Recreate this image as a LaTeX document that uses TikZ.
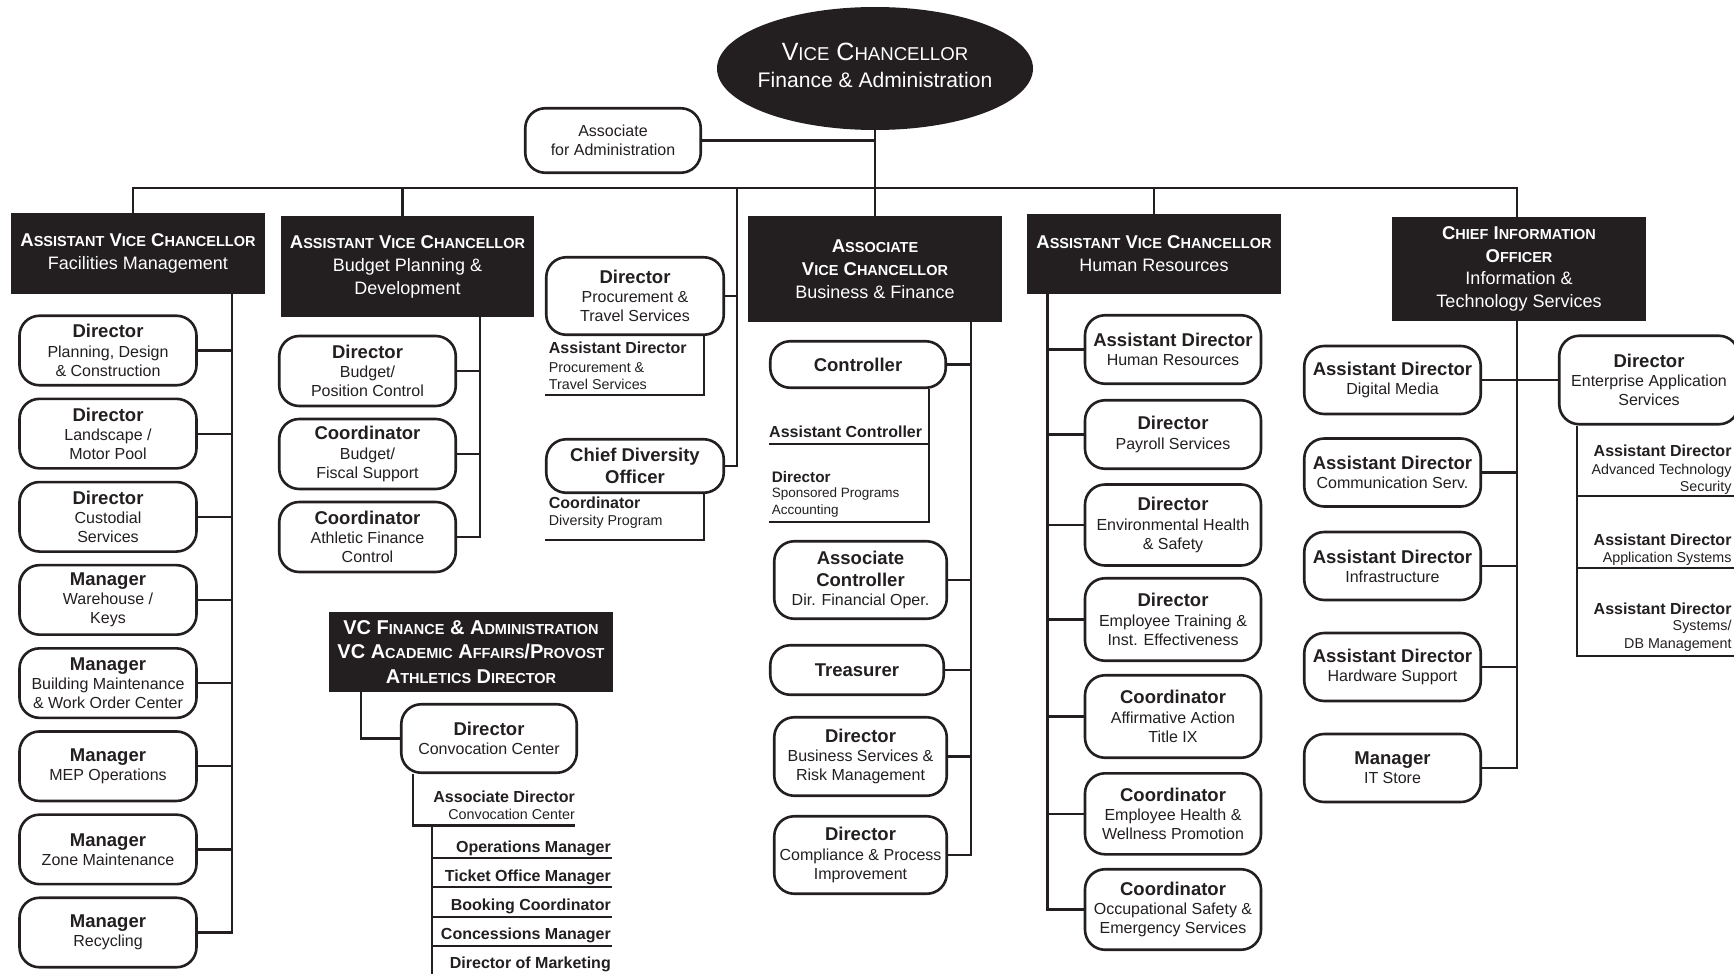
\documentclass[tikz,border=0pt]{standalone}
\usepackage{fontspec}
\setmainfont{Liberation Sans}
\usetikzlibrary{shapes.geometric}
\definecolor{ink}{HTML}{231F20}
\newcommand\scsz{14.5}
\newcommand\fsc[2]{#1{\fontsize{\scsz}{\scsz}\selectfont #2}}
\newcommand\ttl[1]{{\bfseries\fontsize{18.5}{19.2}\selectfont #1}}
\newcommand\hb[1]{{\bfseries\fontsize{18.5}{23}\selectfont #1}}
\begin{document}
\begin{tikzpicture}[x=1pt,y=-1pt,
  ln/.style={draw=ink, line width=2.2pt},
  rb/.style={draw=ink, line width=2.6pt, rounded corners=20pt, fill=white, text=ink, align=center, inner sep=0pt, font=\fontsize{16}{19.2}\selectfont},
  hd/.style={fill=ink, text=white, align=center, inner sep=0pt, font=\fontsize{18}{23}\selectfont},
  bl/.style={inner sep=0pt, text=ink, font=\bfseries\fontsize{16}{16}\selectfont},
  rl/.style={inner sep=0pt, text=ink, font=\fontsize{14.3}{14.3}\selectfont},
  sl/.style={inner sep=0pt, text=ink, font=\fontsize{13.5}{13.5}\selectfont},
  fb/.style={rb, minimum width=177pt, minimum height=69.5pt},
  bb/.style={rb, minimum width=176.5pt, minimum height=70pt},
  hb/.style={rb, minimum width=176pt},
  cb/.style={rb, minimum width=176.5pt, minimum height=68pt}
]
\useasboundingbox (0,0) rectangle (1734,974);
\clip (0,0) rectangle (1734,974);

% ---------------- top
\node[ellipse, fill=ink, minimum width=316pt, minimum height=123pt, inner sep=0pt] (vc) at (875,68.5) {};
\node[text=white, align=center, inner sep=0pt, font=\fontsize{21.1}{27.6}\selectfont] (vct) at (875,65.5)
  {{\fontsize{25}{27.6}\selectfont\def\scsz{18.6}\fsc{V}{ICE} \fsc{C}{HANCELLOR}}\\Finance \& Administration};
\node[rb, minimum width=175.5pt, minimum height=64.5pt] (aa) at (613,140.5) {Associate\\for Administration};

% ---------------- headers
\node[hd, minimum width=254pt, minimum height=81pt] (fac) at (138,253.5)
  {\hb{\fsc{A}{SSISTANT} \fsc{V}{ICE} \fsc{C}{HANCELLOR}}\\Facilities Management};
\node[hd, minimum width=253pt, minimum height=101pt] (bud) at (407.5,266.5)
  {\hb{\fsc{A}{SSISTANT} \fsc{V}{ICE} \fsc{C}{HANCELLOR}}\\Budget Planning \&\\Development};
\node[hd, minimum width=254pt, minimum height=106pt] (avc) at (875,269)
  {\hb{\fsc{A}{SSOCIATE}}\\\hb{\fsc{V}{ICE} \fsc{C}{HANCELLOR}}\\Business \& Finance};
\node[hd, minimum width=254pt, minimum height=80pt] (hr) at (1154,254)
  {\hb{\fsc{A}{SSISTANT} \fsc{V}{ICE} \fsc{C}{HANCELLOR}}\\Human Resources};
\node[hd, minimum width=254pt, minimum height=104pt, font=\fontsize{18}{22.5}\selectfont] (cio) at (1519,269)
  {\hb{\fsc{C}{HIEF} \fsc{I}{NFORMATION}}\\\hb{\fsc{O}{FFICER}}\\Information \&\\Technology Services};
\node[hd, minimum width=284pt, minimum height=80pt, font=\bfseries\fontsize{20}{24.5}\selectfont] (vcf) at (471,652)
  {\fsc{VC F}{INANCE} \& \fsc{A}{DMINISTRATION}\\\fsc{VC A}{CADEMIC} \fsc{A}{FFAIRS}/\fsc{P}{ROVOST}\\\fsc{A}{THLETICS} \fsc{D}{IRECTOR}};

% ---------------- facilities
\node[fb] (pl)  at (108,350.5) {\ttl{Director}\\Planning, Design\\\& Construction};
\node[fb] (ls)  at (108,433.6) {\ttl{Director}\\Landscape /\\Motor Pool};
\node[fb] (cu)  at (108,516.8) {\ttl{Director}\\Custodial\\Services};
\node[fb] (wh)  at (108,599.9) {\ttl{Manager}\\Warehouse /\\Keys};
\node[fb] (bm)  at (108,683.1) {\ttl{Manager}\\Building Maintenance\\\& Work Order Center};
\node[fb] (mep) at (108,766.2) {\ttl{Manager}\\MEP Operations};
\node[fb] (zm)  at (108,849.4) {\ttl{Manager}\\Zone Maintenance};
\node[fb] (rec) at (108,932.5) {\ttl{Manager}\\Recycling};

% ---------------- budget
\node[bb] (bdir) at (367.5,371) {\ttl{Director}\\Budget/\\Position Control};
\node[bb] (bco)  at (367.5,454) {\ttl{Coordinator}\\Budget/\\Fiscal Support};
\node[bb] (bac)  at (367.5,537) {\ttl{Coordinator}\\Athletic Finance\\Control};

% ---------------- procurement / diversity
\node[rb, minimum width=177.5pt, minimum height=77.5pt] (proc) at (635,296) {\ttl{Director}\\Procurement \&\\Travel Services};
\node[rb, minimum width=177.5pt, minimum height=53.5pt] (cdo) at (635,466) {\ttl{Chief Diversity}\\[2.8pt]\ttl{Officer}};
\node[bl, anchor=base west] (pa1) at (548.7,353) {Assistant Director};
\node[rl, anchor=base west] (pa2) at (548.7,372) {Procurement \&};
\node[rl, anchor=base west] (pa3) at (548.7,389) {Travel Services};
\node[bl, anchor=base west] (dc1) at (548.7,508) {Coordinator};
\node[rl, anchor=base west] (dc2) at (548.7,525) {Diversity Program};

% ---------------- business & finance
\node[rb, minimum width=175.5pt, minimum height=46.5pt] (ctl) at (858,364.5) {\ttl{Controller}};
\node[bl, anchor=base west] (ac1) at (769,437) {Assistant Controller};
\node[bl, anchor=base west, font=\bfseries\fontsize{15.3}{15.3}\selectfont] (sp1) at (771.7,482.7) {Director};
\node[sl, anchor=base west] (sp2) at (771.7,497.7) {Sponsored Programs};
\node[sl, anchor=base west] (sp3) at (771.7,514) {Accounting};
\node[rb, minimum width=172.5pt, minimum height=77.5pt] (actl) at (860.5,580) {\ttl{Associate}\\[2.8pt]\ttl{Controller}\\Dir. Financial Oper.};
\node[rb, minimum width=173.5pt, minimum height=49.5pt] (tre) at (857,670) {\ttl{Treasurer}};
\node[rb, minimum width=172.5pt, minimum height=78.5pt] (bus) at (860.5,756.5) {\ttl{Director}\\Business Services \&\\Risk Management};
\node[rb, minimum width=172.5pt, minimum height=77.5pt] (cmp) at (860.5,855) {\ttl{Director}\\Compliance \& Process\\Improvement};

% ---------------- human resources
\node[hb, minimum height=68.5pt] (ahr) at (1173,349.5) {\ttl{Assistant Director}\\Human Resources};
\node[hb, minimum height=68.5pt] (pay) at (1173,434.5) {\ttl{Director}\\Payroll Services};
\node[hb, minimum height=81pt]   (env) at (1173,525)   {\ttl{Director}\\Environmental Health\\\& Safety};
\node[hb, minimum height=82.5pt] (trn) at (1173,619.5) {\ttl{Director}\\Employee Training \&\\Inst. Effectiveness};
\node[hb, minimum height=82.5pt] (aff) at (1173,716.5) {\ttl{Coordinator}\\Affirmative Action\\Title IX};
\node[hb, minimum height=81pt]   (ehw) at (1173,813.8) {\ttl{Coordinator}\\Employee Health \&\\Wellness Promotion};
\node[hb, minimum height=80.5pt] (occ) at (1173,909.5) {\ttl{Coordinator}\\Occupational Safety \&\\Emergency Services};

% ---------------- information technology
\node[cb] (dm)  at (1392.5,380)   {\ttl{Assistant Director}\\Digital Media};
\node[cb] (cs)  at (1392.5,472.5) {\ttl{Assistant Director}\\Communication Serv.};
\node[cb] (inf) at (1392.5,566)   {\ttl{Assistant Director}\\Infrastructure};
\node[cb] (hw)  at (1392.5,667)   {\ttl{Assistant Director}\\Hardware Support};
\node[cb] (its) at (1392.5,768)   {\ttl{Manager}\\IT Store};
\node[rb, minimum width=179.5pt, minimum height=88.5pt] (ent) at (1649,380) {\ttl{Director}\\Enterprise Application\\Services};
\node[bl, anchor=base east] (e1a) at (1731.7,456)   {Assistant Director};
\node[rl, anchor=base east] (e1b) at (1731.7,474.8) {Advanced Technology};
\node[rl, anchor=base east] (e1c) at (1731.7,491)   {Security};
\node[bl, anchor=base east] (e2a) at (1731.7,545.6) {Assistant Director};
\node[rl, anchor=base east] (e2b) at (1731.7,562)   {Application Systems};
\node[bl, anchor=base east] (e3a) at (1731.7,614.5) {Assistant Director};
\node[rl, anchor=base east] (e3b) at (1731.7,630.5) {Systems/};
\node[rl, anchor=base east] (e3c) at (1731.7,648.5) {DB Management};

% ---------------- convocation
\node[rb, minimum width=175.5pt, minimum height=68.5pt] (conv) at (489,738.5) {\ttl{Director}\\Convocation Center};
\node[bl, anchor=base east] (cv1) at (575,802.7) {Associate Director};
\node[rl, anchor=base east] (cv2) at (575,819)   {Convocation Center};
\node[bl, anchor=base east] (m1) at (611,852.7) {Operations Manager};
\node[bl, anchor=base east] (m2) at (611,881.7) {Ticket Office Manager};
\node[bl, anchor=base east] (m3) at (611,910.7) {Booking Coordinator};
\node[bl, anchor=base east] (m4) at (611,939.3) {Concessions Manager};
\node[bl, anchor=base east] (m5) at (611,968.3) {Director of Marketing};

% ================= connectors
\coordinate (barL) at (133,188);
\coordinate (barR) at (1517,188);
\coordinate (dB) at (402.5,188);
\coordinate (dP) at (737,188);
\draw[ln] (barL |- fac.north) -- (barL) -- (barR) -- (barR |- cio.north);
\draw[ln] (vc.south) -- (avc.north);
\draw[ln] (aa.east) -- (aa.east -| vc.south);
\draw[ln] (dB) -- (dB |- bud.north);
\draw[ln] (hr.north |- barL) -- (hr.north);
\draw[ln] (dP) -- (dP |- cdo.east) -- (cdo.east);
\draw[ln] (proc.east) -- (proc.east -| dP);

% facilities trunk
\coordinate (fV) at (232,294);
\draw[ln] (fV) -- (fV |- rec.east) -- (rec.east);
\foreach \n in {pl,ls,cu,wh,bm,mep,zm} \draw[ln] (\n.east) -- (\n.east -| fV);

% budget trunk
\coordinate (bV) at (480,317);
\draw[ln] (bV) -- (bV |- bac.east) -- (bac.east);
\foreach \n in {bdir,bco} \draw[ln] (\n.east) -- (\n.east -| bV);

% procurement / diversity brackets
\coordinate (pbR) at (704,395); \coordinate (pbL) at (545,395);
\draw[ln] (proc.south -| pbR) -- (pbR) -- (pbL);
\coordinate (dbR) at (704,540); \coordinate (dbL) at (545,540);
\draw[ln] (cdo.south -| dbR) -- (dbR) -- (dbL);

% business & finance trunk
\coordinate (aV) at (971,322);
\draw[ln] (aV) -- (aV |- cmp.east) -- (cmp.east);
\foreach \n in {ctl,actl,tre,bus} \draw[ln] (\n.east) -- (\n.east -| aV);
\coordinate (cbR) at (929,521.7); \coordinate (cbL) at (769,521.7); \coordinate (cbM) at (769,444.3);
\draw[ln] (ctl.south -| cbR) -- (cbR) -- (cbL);
\draw[ln] (cbM) -- (cbM -| cbR);

% HR trunk
\coordinate (hV) at (1047.5,294);
\draw[ln] (hV) -- (hV |- occ.west) -- (occ.west);
\foreach \n in {ahr,pay,env,trn,aff,ehw} \draw[ln] (\n.west) -- (\n.west -| hV);

% CIO trunk
\coordinate (cV) at (1517,321);
\draw[ln] (cV) -- (cV |- its.east) -- (its.east);
\foreach \n in {dm,cs,inf,hw} \draw[ln] (\n.east) -- (\n.east -| cV);
\draw[ln] (ent.west) -- (ent.west -| cV);
\coordinate (eB) at (1576.7,656); \coordinate (eE) at (1740,656);
\draw[ln] (ent.south -| eB) -- (eB) -- (eE);
\coordinate (eL1) at (1576.7,495.8); \coordinate (eL2) at (1576.7,568);
\draw[ln] (eL1) -- (eL1 -| eE);
\draw[ln] (eL2) -- (eL2 -| eE);

% convocation
\coordinate (vfC) at (361,738.5);
\draw[ln] (vcf.south -| vfC) -- (vfC) -- (conv.west);
\coordinate (cvB) at (413.3,825.4); \coordinate (cvE) at (575,825.4);
\draw[ln] (conv.south -| cvB) -- (cvB) -- (cvE);
\coordinate (lsT) at (432.3,825.4); \coordinate (lsB) at (432.3,980);
\draw[ln] (lsT) -- (lsB);
\foreach \yy in {858.3,887.3,916.7,945.7} \draw[ln] (432.3,\yy) -- (612,\yy);
\end{tikzpicture}
\end{document}
